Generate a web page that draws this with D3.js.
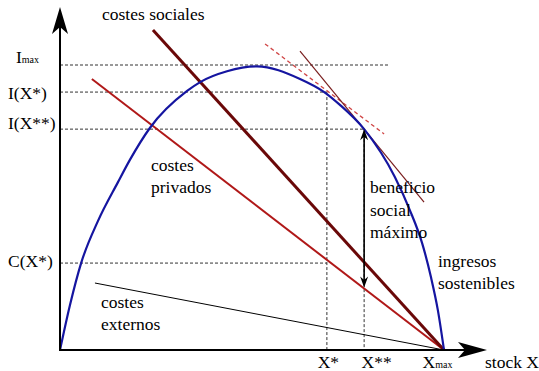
<!DOCTYPE html>
<html><head><meta charset="utf-8">
<script src="https://cdn.jsdelivr.net/npm/d3@7/dist/d3.min.js"></script>
<style>
html,body{margin:0;padding:0;background:#fff;}
svg{display:block;}
</style></head>
<body>
<svg id="chart" width="539" height="371"></svg>
<script>
// ---- data (stock X in % of Xmax, values in % of Imax) ----
const revenueX = [0, 2.6, 5.5, 9.9, 15.1, 18.2, 23.4, 33.1, 36.5, 43.5, 51.3, 62.5, 68.8, 72.9, 79.2, 87.2, 91.1, 94.3, 96.6, 98.4, 100];
const revenueY = [0, 15.8, 30.5, 45.3, 58.9, 66.7, 77.9, 90.9, 94.0, 97.8, 99.5, 95.1, 90.5, 86.0, 77.5, 60.7, 49.1, 37.5, 25.6, 14.0, 0];
const socialCostX = [24.2, 100];
const socialCostY = [112.3, 0];
const privateCostX = [8.3, 100];
const privateCostY = [95.1, 0];
const externalCostX = [9.1, 100];
const externalCostY = [23.5, 0];
const tangentPrivX = [53.4, 84.4];
const tangentPrivY = [107.4, 75.8];
const tangentSocX = [62.5, 94.8];
const tangentSocY = [104.9, 51.9];
const xTickValues = [69.5, 79.2, 100];
const xTickLabels = [["X*", ""], ["X**", ""], ["X", "max"]];
const yRefValues = [100, 90.5, 77.5, 30.5];
const yRefLabels = [["I", "max"], ["I(X*)", ""], ["I(X**)", ""], ["C(X*)", ""]];
const yRefEnds = [85.9, 69.5, 79.2, 69.5];
const benefitLow = 21.9;

const svg = d3.select("#chart");
const x = d3.scaleLinear().domain([0, 100]).range([60, 444]);
const y = d3.scaleLinear().domain([0, 100]).range([350, 65]);
const FS = 17.5;
const FF = "'Liberation Serif', serif";

const toPts = (xs, ys) => xs.map((v, i) => [x(v), y(ys[i])]);
const line = d3.line();

// dashed reference lines
const dashG = svg.append("g").attr("stroke", "#333").attr("stroke-width", 1).attr("stroke-dasharray", "3,2").attr("fill", "none");
yRefValues.forEach((v, i) => {
  dashG.append("line").attr("x1", x(0)).attr("x2", x(yRefEnds[i])).attr("y1", y(v)).attr("y2", y(v));
});
dashG.append("line").attr("x1", x(xTickValues[0])).attr("x2", x(xTickValues[0])).attr("y1", y(yRefValues[1])).attr("y2", y(0));
dashG.append("line").attr("x1", x(xTickValues[1])).attr("x2", x(xTickValues[1])).attr("y1", y(yRefValues[2])).attr("y2", y(0));

// cost lines
svg.append("path").attr("d", line(toPts(externalCostX, externalCostY))).attr("stroke", "#000").attr("stroke-width", 1).attr("fill", "none");
svg.append("path").attr("d", line(toPts(privateCostX, privateCostY))).attr("stroke", "#b01818").attr("stroke-width", 2).attr("fill", "none");
svg.append("path").attr("d", line(toPts(socialCostX, socialCostY))).attr("stroke", "#6a0808").attr("stroke-width", 3).attr("fill", "none");

// tangents
svg.append("path").attr("d", line(toPts(tangentPrivX, tangentPrivY))).attr("stroke", "#d04545").attr("stroke-width", 1.3).attr("stroke-dasharray", "4,3").attr("fill", "none");
svg.append("path").attr("d", line(toPts(tangentSocX, tangentSocY))).attr("stroke", "#7a1f1f").attr("stroke-width", 1.2).attr("fill", "none");

// revenue curve
svg.append("path").attr("d", d3.line().curve(d3.curveMonotoneX)(toPts(revenueX, revenueY)))
  .attr("stroke", "#1515a0").attr("stroke-width", 2.2).attr("fill", "none");

// benefit double arrow
function arrowHead(tx, ty, dir, len, hw, col) {
  const b = ty - dir * len, n = ty - dir * len * 0.7;
  return svg.append("path").attr("d", `M${tx},${ty}L${tx - hw},${b}L${tx},${n}L${tx + hw},${b}Z`).attr("fill", col);
}
const ax = x(xTickValues[1]);
svg.append("line").attr("x1", ax).attr("x2", ax).attr("y1", y(yRefValues[2]) + 6).attr("y2", y(benefitLow) - 6)
  .attr("stroke", "#000").attr("stroke-width", 1.6);
arrowHead(ax, y(yRefValues[2]), -1, 11, 4, "#000");
arrowHead(ax, y(benefitLow), 1, 11, 4, "#000");

// axes
const x0 = x(0), y0 = y(0), xEnd = x(100) + 43, yTop = y(100) - 58;
svg.append("line").attr("x1", x0).attr("x2", xEnd - 20).attr("y1", y0).attr("y2", y0).attr("stroke", "#000").attr("stroke-width", 2);
svg.append("line").attr("x1", x0).attr("x2", x0).attr("y1", y0 + 1).attr("y2", yTop + 20).attr("stroke", "#000").attr("stroke-width", 2);
svg.append("path").attr("d", `M${xEnd},${y0}L${xEnd - 29},${y0 - 8}L${xEnd - 22},${y0}L${xEnd - 29},${y0 + 8}Z`).attr("fill", "#000");
svg.append("path").attr("d", `M${x0},${yTop}L${x0 - 8},${yTop + 27}L${x0},${yTop + 20}L${x0 + 8},${yTop + 27}Z`).attr("fill", "#000");

// x tick labels via d3 axis
const xAxis = d3.axisBottom(x).tickValues(xTickValues).tickSize(0).tickPadding(0).tickFormat("");
const gx = svg.append("g").attr("transform", `translate(0,${y0})`).call(xAxis);
gx.attr("font-family", FF);
gx.select(".domain").remove();
const xOffsets = [1, 12, -7];
gx.selectAll(".tick").each(function (d, i) {
  const t = d3.select(this).select("text").text(null).attr("y", 18).attr("dy", 0)
    .attr("font-size", FS).attr("font-family", FF).attr("fill", "#000").attr("x", xOffsets[i]).attr("text-anchor", "middle");
  t.append("tspan").text(xTickLabels[i][0]);
  if (xTickLabels[i][1]) t.append("tspan").attr("font-size", 10).text(xTickLabels[i][1]);
});

// y reference labels
const yLabX = [16, 8, 8, 8];
const yLabDy = [-2, 7, 0, 4];
yRefValues.forEach((v, i) => {
  const t = svg.append("text").attr("x", yLabX[i]).attr("y", y(v) + yLabDy[i]).attr("font-size", FS).attr("font-family", FF);
  t.append("tspan").text(yRefLabels[i][0]);
  if (yRefLabels[i][1]) t.append("tspan").attr("font-size", 10).text(yRefLabels[i][1]);
});

// annotations
function multi(lines, px, py, lh) {
  const t = svg.append("text").attr("x", px).attr("y", py).attr("font-size", FS).attr("font-family", FF);
  lines.forEach((s, i) => t.append("tspan").attr("x", px).attr("dy", i ? lh : 0).text(s));
}
multi(["costes sociales"], 102, 20, 22);
multi(["costes", "privados"], 151, 171, 22);
multi(["beneficio", "social", "máximo"], 370, 193, 22.5);
multi(["ingresos", "sostenibles"], 438, 267, 21.5);
multi(["costes", "externos"], 101, 308, 22);
svg.append("text").attr("x", 485).attr("y", 368).attr("font-size", FS).attr("font-family", FF).text("stock X");
</script>
</body></html>
